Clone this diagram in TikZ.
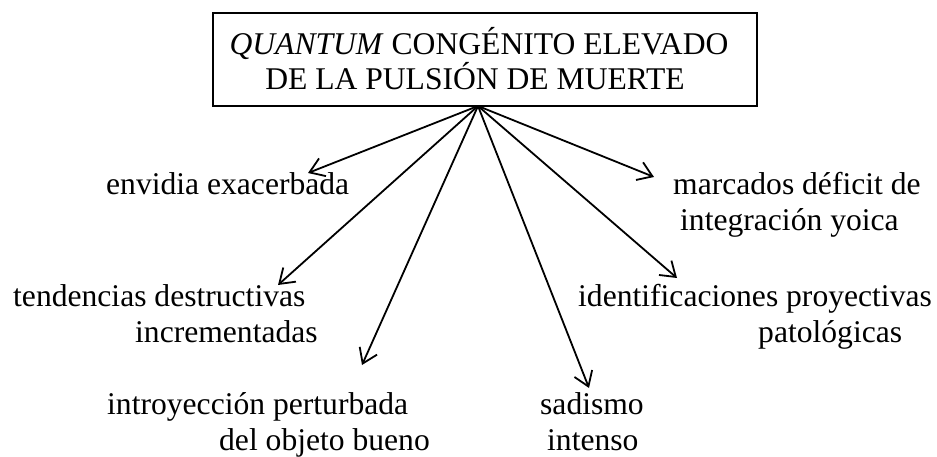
\documentclass[tikz,border=0pt]{standalone}
\usepackage{fontspec}
\setmainfont{Liberation Serif}
\usetikzlibrary{arrows.meta}
\begin{document}
\begin{tikzpicture}[x=1pt,y=-1pt,
  lbl/.style={inner sep=0pt, font=\fontsize{31.6}{36}\selectfont},
  arr/.style={line width=1.8pt, -{Straight Barb[length=14pt,width=19pt]}},
  titlebox/.style={draw, line width=1.8pt, minimum width=544pt, minimum height=93pt, inner sep=0pt}]
\useasboundingbox (0,0) rectangle (937,457);
\node[titlebox] (box) at (485,59.5) {};
\node[lbl, anchor=base] (t1) at (479,55) {\textit{QUANTUM} CONGÉNITO ELEVADO};
\node[lbl, anchor=base] (t2) at (475,90) {DE LA PULSIÓN DE MUERTE};
\coordinate (apex) at (478,106);
\coordinate (e1) at (308,173);
\coordinate (e2) at (278,285);
\coordinate (e3) at (362,365);
\coordinate (e4) at (589,388);
\coordinate (e5) at (677,278);
\coordinate (e6) at (654,177);
\foreach \i in {1,...,6} \draw[arr] (apex) -- (e\i);
\node[lbl, anchor=base west] (envidia) at (106,195) {envidia exacerbada};
\node[lbl, anchor=base west] (tend1) at (13,306) {tendencias destructivas};
\node[lbl, anchor=base west] (tend2) at (135,342) {incrementadas};
\node[lbl, anchor=base west] (intro1) at (107,414) {introyección perturbada};
\node[lbl, anchor=base east] (intro2) at (430,450) {del objeto bueno};
\node[lbl, anchor=base west] (sad1) at (540,414) {sadismo};
\node[lbl, anchor=base west] (sad2) at (547,450) {intenso};
\node[lbl, anchor=base west] (marc1) at (673,195) {marcados déficit de};
\node[lbl, anchor=base west] (marc2) at (680,231) {integración yoica};
\node[lbl, anchor=base west] (id1) at (578,306) {identificaciones proyectivas};
\node[lbl, anchor=base west] (id2) at (758,342) {patológicas};
\end{tikzpicture}
\end{document}
